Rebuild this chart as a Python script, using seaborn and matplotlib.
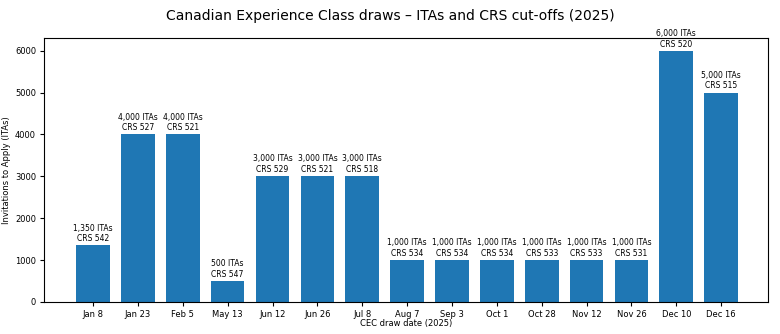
import matplotlib
matplotlib.use("Agg")
import matplotlib.pyplot as plt
import seaborn as sns
import pandas as pd

dates = ["Jan 8", "Jan 23", "Feb 5", "May 13", "Jun 12", "Jun 26", "Jul 8", "Aug 7",
         "Sep 3", "Oct 1", "Oct 28", "Nov 12", "Nov 26", "Dec 10", "Dec 16"]
itas = [1350, 4000, 4000, 500, 3000, 3000, 3000, 1000, 1000, 1000, 1000, 1000, 1000, 6000, 5000]
crs = [542, 527, 521, 547, 529, 521, 518, 534, 534, 534, 533, 533, 531, 520, 515]

df = pd.DataFrame({"date": dates, "itas": itas, "crs": crs})

fig = plt.figure(figsize=(7.8, 3.34), dpi=100)
ax = fig.add_axes([0.056, 0.096, 0.929, 0.790])
sns.barplot(data=df, x="date", y="itas", color="#1f77b4", saturation=1, width=0.75, ax=ax)

for i, (v, c) in enumerate(zip(itas, crs)):
    ax.annotate(f"{v:,} ITAs\nCRS {c}", (i, v), xytext=(0, 1.5), textcoords="offset points",
                ha="center", va="bottom", fontsize=5.5, linespacing=1.25)

ax.set_xlim(-1.1, 15.05)
ax.set_ylim(0, 6300)
ax.set_yticks([0, 1000, 2000, 3000, 4000, 5000, 6000])
ax.tick_params(labelsize=6, length=3, pad=2.5)
ax.set_xlabel("CEC draw date (2025)", fontsize=6, labelpad=0.5)
ax.set_ylabel("Invitations to Apply (ITAs)", fontsize=6, labelpad=3)
fig.suptitle("Canadian Experience Class draws \u2013 ITAs and CRS cut-offs (2025)", fontsize=10, y=0.972)

fig.savefig("out.png", dpi=100)
